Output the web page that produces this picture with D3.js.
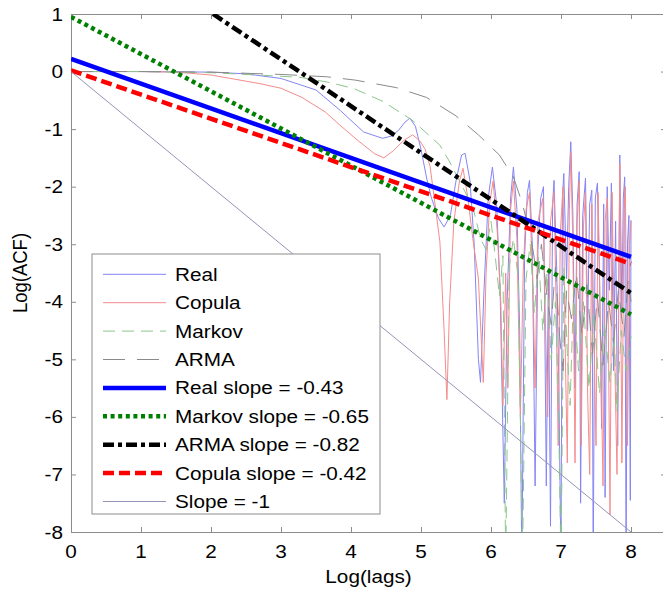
<!DOCTYPE html>
<html>
<head>
<meta charset="utf-8">
<script src="https://cdn.jsdelivr.net/npm/d3@7"></script>
<style>
  body { margin: 0; background: #fff; }
  text { font-family: "Liberation Sans", Arial, sans-serif; fill: #000; }
</style>
</head>
<body>
<div id="chart"></div>
<script>
// valores (x = log(lags), y = log(ACF))
const xTicks = [0, 1, 2, 3, 4, 5, 6, 7, 8];
const yTicks = [1, 0, -1, -2, -3, -4, -5, -6, -7, -8];

const realACF = [[0,0],[1,0],[2,-0.01],[2.5,-0.04],[3,-0.12],[3.5,-0.32],[3.85,-0.68],[4.18,-1.05],[4.45,-1.16],[4.58,-1.12],[4.68,-1.02],[4.77,-0.88],[4.84,-0.81],[4.92,-0.95],[5.0,-1.35],[5.08,-1.85],[5.15,-2.2],[5.25,-2.55],[5.33,-2.7],[5.42,-2.5],[5.5,-1.9],[5.58,-1.45],[5.63,-1.42],[5.7,-1.9],[5.76,-3.0],[5.82,-5.0],[5.85,-5.4],[5.9,-3.8],[5.96,-2.2],[6.02,-1.66],[6.08,-2.3],[6.13,-3.8],[6.19,-7.5],[6.23,-4.0],[6.28,-2.2],[6.32,-1.66],[6.37,-2.4],[6.41,-4.5],[6.44,-8.6],[6.48,-3.2],[6.52,-2.1],[6.55,-1.89],[6.59,-3.0],[6.63,-7.2],[6.67,-3.1],[6.71,-2.2],[6.75,-2.0],[6.79,-7.2],[6.82,-3.5],[6.85,-7.9],[6.88,-2.3],[6.9,-1.89],[6.94,-3.5],[6.97,-5.5],[7.0,-8.6],[7.02,-2.2],[7.04,-1.77],[7.08,-3.6],[7.11,-2.0],[7.14,-1.22],[7.17,-2.5],[7.2,-5.5],[7.23,-2.3],[7.26,-1.74],[7.28,-7.5],[7.31,-2.5],[7.35,-1.85],[7.38,-4.5],[7.41,-2.3],[7.44,-2.06],[7.46,-8.6],[7.49,-2.2],[7.52,-1.94],[7.55,-3.5],[7.58,-6.2],[7.61,-2.3],[7.63,-7.4],[7.66,-2.0],[7.69,-3.8],[7.72,-1.94],[7.75,-5.2],[7.78,-2.6],[7.81,-6.5],[7.84,-1.45],[7.87,-4.2],[7.89,-2.2],[7.91,-1.83],[7.93,-8.6],[7.95,-3.0],[7.97,-2.5],[7.99,-7.45],[8.0,-2.58]];

const copulaACF = [[0,0],[1,0],[1.5,-0.01],[2,-0.06],[2.7,-0.21],[3.0,-0.29],[3.3,-0.45],[3.63,-0.7],[3.84,-0.93],[4.1,-1.2],[4.34,-1.43],[4.47,-1.5],[4.61,-1.37],[4.75,-1.2],[4.88,-1.1],[4.98,-1.2],[5.06,-1.35],[5.13,-1.65],[5.2,-2.3],[5.27,-2.96],[5.33,-4.5],[5.37,-5.7],[5.41,-4.0],[5.47,-2.6],[5.55,-1.9],[5.6,-1.68],[5.67,-2.2],[5.74,-2.9],[5.82,-3.6],[5.89,-5.4],[5.93,-3.5],[5.98,-2.3],[6.03,-1.9],[6.09,-2.8],[6.14,-4.0],[6.17,-5.8],[6.21,-3.5],[6.24,-5.5],[6.28,-2.4],[6.32,-1.9],[6.37,-2.9],[6.42,-6.0],[6.46,-3.5],[6.5,-2.4],[6.55,-2.1],[6.6,-3.8],[6.63,-5.5],[6.67,-2.6],[6.74,-2.2],[6.78,-4.5],[6.81,-6.0],[6.85,-2.6],[6.9,-2.1],[6.93,-4.0],[6.96,-6.5],[6.99,-2.8],[7.03,-2.0],[7.06,-4.8],[7.09,-6.8],[7.12,-2.4],[7.14,-1.4],[7.17,-3.0],[7.2,-6.8],[7.23,-2.6],[7.26,-1.9],[7.29,-6.5],[7.32,-2.7],[7.35,-2.1],[7.38,-5.6],[7.41,-7.0],[7.44,-2.3],[7.47,-4.5],[7.5,-6.5],[7.53,-2.1],[7.57,-5.0],[7.6,-7.2],[7.63,-2.6],[7.66,-2.2],[7.7,-7.7],[7.73,-2.1],[7.76,-4.5],[7.8,-7.0],[7.84,-1.6],[7.87,-6.8],[7.9,-2.4],[7.92,-2.0],[7.95,-6.5],[7.98,-3.0],[8.0,-2.6]];

const markovACF = [[0,0],[1,0],[2,-0.02],[2.5,-0.05],[3.27,-0.1],[3.65,-0.18],[4.03,-0.29],[4.46,-0.52],[4.87,-0.84],[5.27,-1.28],[5.41,-1.57],[5.63,-2.09],[5.75,-2.4],[5.85,-2.9],[5.93,-3.1],[6.0,-2.6],[6.06,-3.2],[6.12,-3.9],[6.17,-3.2],[6.21,-8.6],[6.26,-3.4],[6.32,-2.9],[6.39,-3.6],[6.45,-8.6],[6.5,-3.6],[6.56,-3.0],[6.62,-4.2],[6.68,-3.2],[6.74,-4.5],[6.8,-3.5],[6.86,-5.0],[6.92,-4.0],[6.96,-5.6],[7.0,-8.6],[7.04,-3.4],[7.09,-4.9],[7.13,-5.8],[7.18,-3.8],[7.25,-5.2],[7.32,-4.0],[7.4,-5.5],[7.47,-4.2],[7.55,-5.6],[7.62,-4.4],[7.7,-5.4],[7.76,-4.6],[7.8,-5.9],[7.86,-4.5],[7.93,-5.2],[8.0,-4.6]];

const armaACF = [[0,0],[1,0],[2,-0.01],[2.51,-0.03],[3.0,-0.05],[3.65,-0.09],[4.07,-0.15],[4.65,-0.28],[5.08,-0.45],[5.5,-0.77],[5.82,-1.1],[6.12,-1.45],[6.32,-1.83],[6.45,-2.3],[6.55,-2.8],[6.6,-3.1],[6.66,-3.6],[6.72,-3.0],[6.8,-3.9],[6.86,-4.4],[6.92,-3.4],[6.98,-4.6],[7.03,-5.2],[7.08,-3.8],[7.15,-4.3],[7.22,-3.5],[7.3,-4.6],[7.37,-3.7],[7.45,-4.9],[7.52,-3.9],[7.6,-5.1],[7.68,-4.0],[7.75,-4.7],[7.82,-3.8],[7.9,-4.6],[7.96,-3.6],[8.0,-4.0]];

// rectas ajustadas (extremos leidos)
const realFit = [[0, 0.22], [8, -3.22]];
const markovFit = [[0, 0.95], [8, -4.22]];
const armaFit = [[2.03, 1.0], [8, -3.85]];
const copulaFit = [[0, 0.02], [8, -3.34]];
const unitSlope = [[0, 0], [8, -8]];

const series = [
  { name: "Real", data: realACF, color: "#8484f6", width: 1, dash: null },
  { name: "Copula", data: copulaACF, color: "#f48c8c", width: 1, dash: null },
  { name: "Markov", data: markovACF, color: "#8cc68c", width: 1, dash: "12,7" },
  { name: "ARMA", data: armaACF, color: "#8a8a8a", width: 1, dash: "22,12" },
  { name: "Real slope = -0.43", data: realFit, color: "#0000ff", width: 4.5, dash: null },
  { name: "Markov slope = -0.65", data: markovFit, color: "#008000", width: 4.5, dash: "4,3.6" },
  { name: "ARMA slope = -0.82", data: armaFit, color: "#000000", width: 4.5, dash: "11,4,4,4" },
  { name: "Copula slope = -0.42", data: copulaFit, color: "#ff0000", width: 4.5, dash: "11,5" },
  { name: "Slope = -1", data: unitSlope, color: "#9494b8", width: 1, dash: null }
];

const W = 663, H = 595;
const x = d3.scaleLinear().domain([0, 8.5]).range([71, 666]);
const y = d3.scaleLinear().domain([-8, 1]).range([532, 14]);
const sx = 1.12; // la figura original esta estirada en horizontal

const svg = d3.select("#chart").append("svg")
  .attr("width", W).attr("height", H);

svg.append("defs").append("clipPath").attr("id", "plotclip")
  .append("rect").attr("x", x(0)).attr("y", y(1))
  .attr("width", x(8.5) - x(0)).attr("height", y(-8) - y(1));

function label(g, px, py, txt, anchor) {
  return g.append("text")
    .attr("transform", "translate(" + px + "," + py + ") scale(" + sx + ",1)")
    .attr("text-anchor", anchor)
    .style("font-size", "18.5px")
    .text(txt);
}

// ejes con ticks hacia adentro
const axisColor = "#8c8c8c";
function styleAxis(g) {
  g.selectAll(".domain").attr("stroke", axisColor);
  g.selectAll(".tick line").attr("stroke", axisColor);
}
svg.append("g").attr("transform", "translate(0," + y(-8) + ")")
  .call(d3.axisBottom(x).tickValues(xTicks).tickSize(-5).tickSizeOuter(0).tickFormat(""))
  .call(styleAxis);
svg.append("g").attr("transform", "translate(0," + y(1) + ")")
  .call(d3.axisTop(x).tickValues(xTicks).tickSize(-5).tickSizeOuter(0).tickFormat(""))
  .call(styleAxis);
svg.append("g").attr("transform", "translate(" + x(0) + ",0)")
  .call(d3.axisLeft(y).tickValues(yTicks).tickSize(-5).tickSizeOuter(0).tickFormat(""))
  .call(styleAxis);
svg.append("g").attr("transform", "translate(" + x(8.5) + ",0)")
  .call(d3.axisRight(y).tickValues(yTicks).tickSize(-5).tickSizeOuter(0).tickFormat(""))
  .call(styleAxis);

// etiquetas de los ticks
const labels = svg.append("g");
xTicks.forEach(t => label(labels, x(t), 558, t, "middle"));
yTicks.forEach(t => label(labels, 63, y(t) + 6.5, t, "end"));
label(labels, x(4.25), 583, "Log(lags)", "middle");
svg.append("text")
  .attr("transform", "translate(27," + (y(-3.5)) + ") rotate(-90) scale(1,1.12)")
  .attr("text-anchor", "middle")
  .style("font-size", "18.5px")
  .text("Log(ACF)");

// curvas
const line = d3.line().x(d => x(d[0])).y(d => y(d[1]));
const plot = svg.append("g").attr("clip-path", "url(#plotclip)");
plot.selectAll("path.serie")
  .data(series)
  .enter().append("path")
  .attr("class", "serie")
  .attr("d", d => line(d.data))
  .attr("fill", "none")
  .attr("stroke", d => d.color)
  .attr("stroke-width", d => d.width)
  .attr("stroke-dasharray", d => d.dash)
  .attr("stroke-linejoin", "round");

// leyenda
const lg = svg.append("g");
lg.append("rect")
  .attr("x", 92).attr("y", 254).attr("width", 288).attr("height", 260)
  .attr("fill", "#fff").attr("stroke", axisColor).attr("stroke-width", 1);

const item = lg.selectAll(".legend")
  .data(series)
  .enter().append("g")
  .attr("class", "legend")
  .attr("transform", (d, i) => "translate(0," + (274.3 + i * 28.4) + ")");

item.append("line")
  .attr("x1", 103).attr("x2", 166)
  .attr("stroke", d => d.color)
  .attr("stroke-width", d => d.width)
  .attr("stroke-dasharray", d => d.dash);

item.each(function (d) {
  label(d3.select(this), 175, 6.5, d.name, "start");
});
</script>
</body>
</html>
